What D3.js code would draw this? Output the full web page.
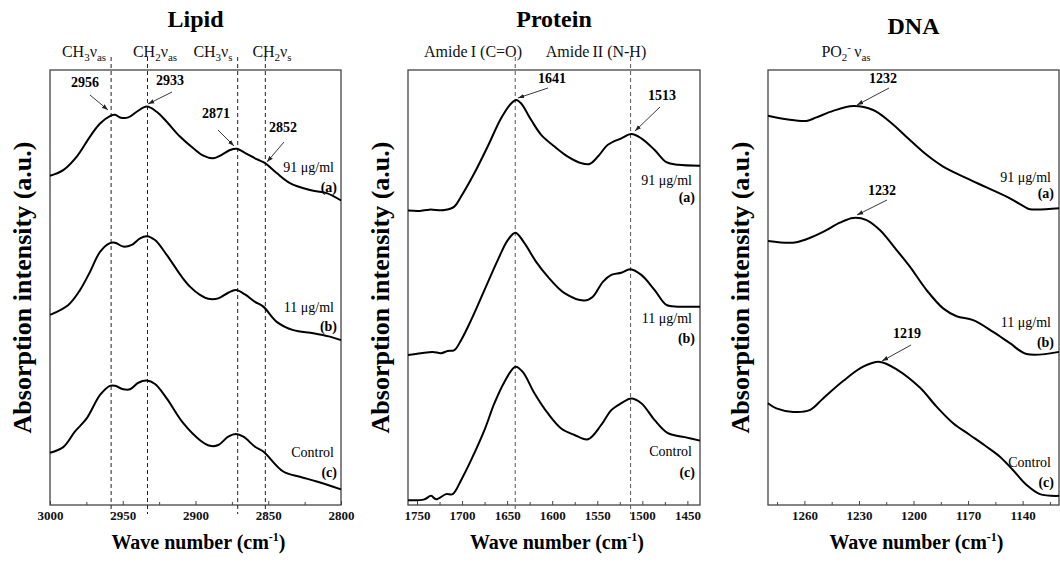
<!DOCTYPE html>
<html>
<head>
<meta charset="utf-8">
<script src="https://cdn.jsdelivr.net/npm/d3@7"></script>
<style>
  body { margin: 0; background: #fff; }
  svg text { font-family: "Liberation Serif", "Times New Roman", serif; }
</style>
</head>
<body>
<div id="container"></div>
<script>
// 枠の大きさ
let width = 1060;
let height = 563;

// Lipid  [wave number, intensity]
var lipidA = [[3000,7.57],[2990.9,7.70],[2981.6,8.01],[2972.5,8.47],[2965.6,8.77],[2958.8,8.94],[2955.3,8.97],[2951.9,8.91],[2946.2,8.91],[2940.4,9.04],[2933.5,9.16],[2926.7,9.04],[2919.8,8.81],[2910.7,8.47],[2901.5,8.20],[2894.6,8.03],[2887.8,7.97],[2882.0,8.05],[2876.3,8.16],[2871.7,8.19],[2864.8,8.07],[2857.9,7.95],[2852.2,7.86],[2844.2,7.63],[2835.1,7.40],[2821.3,7.24],[2809.8,7.17],[2800,7.00]];
var lipidB = [[3000,4.37],[2987.4,4.60],[2979.4,4.94],[2972.5,5.36],[2965.6,5.82],[2958.8,6.02],[2955.3,6.03],[2949.6,5.94],[2943.8,5.98],[2938.1,6.13],[2933.5,6.18],[2927.8,6.09],[2919.8,5.75],[2909.5,5.25],[2903.8,5.02],[2896.9,4.83],[2891.2,4.74],[2884.3,4.75],[2877.5,4.88],[2872.2,4.94],[2866.0,4.84],[2859.1,4.67],[2853.4,4.56],[2844.2,4.21],[2832.8,4.02],[2819.0,3.95],[2807.6,3.87],[2800,3.79]];
var lipidC = [[3000,1.20],[2990.9,1.33],[2982.8,1.69],[2974.8,1.99],[2965.6,2.53],[2958.8,2.74],[2955.3,2.74],[2949.6,2.66],[2945.0,2.66],[2939.3,2.81],[2933.5,2.86],[2927.8,2.78],[2919.8,2.45],[2908.4,1.88],[2896.9,1.49],[2890.0,1.36],[2884.3,1.38],[2877.5,1.57],[2872.2,1.63],[2867.1,1.57],[2859.1,1.34],[2853.4,1.23],[2839.7,0.77],[2828.2,0.65],[2816.7,0.54],[2800,0.36]];

// Protein
var proteinA = [[1760,6.77],[1747.4,6.76],[1736.3,6.79],[1719.7,6.78],[1708.6,6.86],[1701.1,7.09],[1686.3,7.63],[1671.6,8.24],[1656.7,8.89],[1645.6,9.23],[1640,9.31],[1634.4,9.23],[1623.3,8.85],[1612.2,8.51],[1597.4,8.24],[1582.7,8.01],[1567.8,7.86],[1558.6,7.84],[1549.3,8.01],[1538.2,8.28],[1523.3,8.43],[1512.2,8.53],[1501.1,8.43],[1486.3,8.16],[1473.3,7.88],[1460.4,7.82],[1436,7.80]];
var proteinB = [[1760,3.45],[1745.6,3.49],[1732.7,3.52],[1723.3,3.49],[1716.0,3.54],[1708.6,3.56],[1701.1,3.79],[1690.0,4.25],[1675.2,4.94],[1660.4,5.63],[1649.3,6.09],[1640.8,6.26],[1630.8,6.02],[1617.8,5.59],[1604.9,5.25],[1586.3,4.87],[1564.1,4.70],[1554.9,4.79],[1543.8,5.13],[1534.4,5.29],[1523.3,5.34],[1513.3,5.42],[1501.1,5.29],[1486.3,4.94],[1473.3,4.60],[1460.4,4.56],[1436,4.56]];
var proteinC = [[1760,0.11],[1741.9,0.13],[1734.4,0.21],[1728.9,0.13],[1717.8,0.25],[1710.4,0.25],[1701.1,0.57],[1690.0,1.03],[1675.2,1.72],[1664.1,2.34],[1653.0,2.83],[1640.8,3.18],[1632.7,3.06],[1619.7,2.57],[1604.9,2.11],[1590.0,1.76],[1575.2,1.61],[1560.4,1.51],[1545.6,1.84],[1534.4,2.18],[1523.3,2.34],[1512.2,2.45],[1501.1,2.34],[1486.3,1.95],[1471.6,1.65],[1453.0,1.56],[1436,1.48]];

// DNA
var dnaA = [[1280,8.95],[1269.9,8.87],[1258.9,8.83],[1253.4,8.91],[1244.2,9.06],[1233.2,9.17],[1222.2,9.08],[1213.0,8.81],[1202.0,8.39],[1192.8,8.05],[1183.7,7.78],[1172.7,7.55],[1159.8,7.30],[1147.0,7.05],[1138.7,6.85],[1136.0,6.80],[1120,6.82]];
var dnaB = [[1280,6.07],[1266.2,6.03],[1258.9,6.11],[1249.7,6.28],[1240.5,6.49],[1233.2,6.60],[1225.8,6.55],[1218.5,6.32],[1209.3,5.86],[1202.0,5.48],[1192.8,4.94],[1183.7,4.52],[1176.3,4.34],[1167.2,4.25],[1156.2,3.98],[1147.0,3.72],[1137.8,3.47],[1120,3.52]];
var dnaC = [[1280,2.34],[1275.4,2.22],[1266.2,2.14],[1257.1,2.18],[1249.7,2.45],[1238.7,2.85],[1227.7,3.18],[1218.5,3.29],[1209.3,3.12],[1196.5,2.70],[1187.3,2.26],[1178.2,1.88],[1169.0,1.61],[1159.8,1.34],[1152.5,1.11],[1145.2,0.80],[1137.8,0.46],[1130.5,0.25],[1120,0.21]];

var sampleLabels = ["91 \u03bcg/ml", "11 \u03bcg/ml", "Control"];
var letters = ["(a)", "(b)", "(c)"];

var svg = d3.select("#container").append("svg")
  .attr("width", width)
  .attr("height", height);

svg.append("defs").append("marker")
  .attr("id", "arrow")
  .attr("viewBox", "0 0 10 10")
  .attr("refX", 10).attr("refY", 5)
  .attr("markerWidth", 7).attr("markerHeight", 7)
  .attr("orient", "auto")
  .append("path").attr("d", "M0,1.5L10,5L0,8.5").attr("fill", "#222");

// window.top とぶつかるので別名
var plotTop = 70, plotBottom = 505;

var panels = [
  {
    title: "Lipid", titleY: 27, left: 50, right: 341, domain: [3000, 2800],
    ticks: [3000, 2950, 2900, 2850, 2800], minorStep: 25,
    series: [lipidA, lipidB, lipidC],
    dash: [2958, 2933, 2871, 2852], dashColor: "#222",
    heads: [
      { x: 84, parts: [["CH"], ["3", "sub"], ["\u03bd"], ["as", "sub"]] },
      { x: 155, parts: [["CH"], ["2", "sub"], ["\u03bd"], ["as", "sub"]] },
      { x: 213, parts: [["CH"], ["3", "sub"], ["\u03bd"], ["s", "sub"]] },
      { x: 272, parts: [["CH"], ["2", "sub"], ["\u03bd"], ["s", "sub"]] }
    ],
    peaks: [
      { t: "2956", lx: 85, ly: 87, a: [90, 95, 108, 110] },
      { t: "2933", lx: 170, ly: 85, a: [172, 92, 148, 104] },
      { t: "2871", lx: 216, ly: 118, a: [218, 130, 234, 146] },
      { t: "2852", lx: 283, ly: 132, a: [284, 142, 267, 162] }
    ],
    labY: [[172, 192], [312, 331], [457, 477]], labX: 334
  },
  {
    title: "Protein", titleY: 27, left: 408, right: 700, domain: [1760, 1436],
    ticks: [1750, 1700, 1650, 1600, 1550, 1500, 1450], minorStep: 25,
    series: [proteinA, proteinB, proteinC],
    dash: [1641, 1513], dashColor: "#555",
    heads: [
      { x: 473, parts: [["Amide\u2009I (C=O)"]] },
      { x: 596, parts: [["Amide\u2009II (N-H)"]] }
    ],
    peaks: [
      { t: "1641", lx: 552, ly: 83, a: [548, 88, 518, 98] },
      { t: "1513", lx: 662, ly: 100, a: [660, 107, 635, 131] }
    ],
    labY: [[185, 202], [323, 343], [456, 477]], labX: 692
  },
  {
    title: "DNA", titleY: 34, left: 768, right: 1059, domain: [1280, 1120],
    ticks: [1260, 1230, 1200, 1170, 1140], minorStep: 15,
    series: [dnaA, dnaB, dnaC],
    dash: [], dashColor: "#555",
    heads: [
      { x: 846, parts: [["PO"], ["2", "sub"], ["-", "sup"], ["\u2009\u03bd"], ["as", "sub"]] }
    ],
    peaks: [
      { t: "1232", lx: 883, ly: 83, a: [889, 88, 857, 105] },
      { t: "1232", lx: 882, ly: 195, a: [887, 200, 857, 215] },
      { t: "1219", lx: 907, ly: 338, a: [911, 345, 882, 361] }
    ],
    labY: [[182, 198], [327, 347], [467, 487]], labX: 1051
  }
];

var y = d3.scaleLinear().domain([0, 10]).range([plotBottom, plotTop]);

panels.forEach(function(p) {
  var x = d3.scaleLinear().domain(p.domain).range([p.left, p.right]);
  var g = svg.append("g");

  // 枠
  g.append("rect")
    .attr("x", p.left).attr("y", plotTop)
    .attr("width", p.right - p.left).attr("height", plotBottom - plotTop)
    .attr("fill", "none").attr("stroke", "#444").attr("stroke-width", 1.3);

  // minor ticks
  var minor = d3.range(p.domain[1], p.domain[0], p.minorStep)
    .map(function(v) { return Math.ceil(v / p.minorStep) * p.minorStep; })
    .filter(function(v) { return p.ticks.indexOf(v) < 0; });
  g.append("g").attr("transform", "translate(0," + plotBottom + ")")
    .call(d3.axisBottom(x).tickValues(minor).tickSize(-3).tickFormat(""))
    .call(function(a) { a.select(".domain").remove(); a.selectAll("line").attr("stroke", "#444"); });

  var ax = g.append("g").attr("transform", "translate(0," + plotBottom + ")")
    .call(d3.axisBottom(x).tickValues(p.ticks).tickSize(-4).tickPadding(6).tickFormat(d3.format("d")));
  ax.select(".domain").remove();
  ax.selectAll("line").attr("stroke", "#444");
  ax.selectAll("text")
    .attr("font-family", "Liberation Serif, Times New Roman, serif")
    .attr("font-size", 13).attr("font-weight", "bold").attr("fill", "#111");

  // dashed guide lines
  g.selectAll(".dash").data(p.dash).enter().append("line")
    .attr("x1", function(d) { return x(d); }).attr("x2", function(d) { return x(d); })
    .attr("y1", 57).attr("y2", 514)
    .attr("stroke", p.dashColor).attr("stroke-width", 1)
    .attr("stroke-dasharray", "4,3");

  // spectra
  var line = d3.line()
    .x(function(d) { return x(d[0]); })
    .y(function(d) { return y(d[1]); })
    .curve(d3.curveCatmullRom.alpha(0.5));
  g.selectAll(".spec").data(p.series).enter().append("path")
    .attr("d", line)
    .attr("fill", "none").attr("stroke", "#000").attr("stroke-width", 2)
    .attr("stroke-linejoin", "round");

  // title
  g.append("text").attr("x", (p.left + p.right) / 2).attr("y", p.titleY)
    .attr("text-anchor", "middle").attr("font-size", 24).attr("font-weight", "bold")
    .text(p.title);

  // band labels
  p.heads.forEach(function(h) {
    var t = g.append("text").attr("x", h.x).attr("y", 57)
      .attr("text-anchor", "middle").attr("font-size", 16).attr("fill", "#111");
    var shift = 0;
    h.parts.forEach(function(part) {
      var want = part[1] === "sub" ? 4 : part[1] === "sup" ? -6 : 0;
      t.append("tspan")
        .attr("dy", want - shift)
        .attr("font-size", part[1] ? 11 : 16)
        .text(part[0]);
      shift = want;
    });
  });

  // peak numbers and arrows
  p.peaks.forEach(function(k) {
    g.append("text").attr("x", k.lx).attr("y", k.ly)
      .attr("text-anchor", "middle").attr("font-size", 14).attr("font-weight", "bold")
      .text(k.t);
    g.append("line")
      .attr("x1", k.a[0]).attr("y1", k.a[1]).attr("x2", k.a[2]).attr("y2", k.a[3])
      .attr("stroke", "#222").attr("stroke-width", 0.9)
      .attr("marker-end", "url(#arrow)");
  });

  // sample labels
  p.labY.forEach(function(ly, i) {
    g.append("text").attr("x", p.labX).attr("y", ly[0])
      .attr("text-anchor", "end").attr("font-size", 14).text(sampleLabels[i]);
    g.append("text").attr("x", p.labX + 3).attr("y", ly[1])
      .attr("text-anchor", "end").attr("font-size", 14).attr("font-weight", "bold").text(letters[i]);
  });

  // axis titles
  var xt = g.append("text").attr("x", (p.left + p.right) / 2 + 3).attr("y", 549)
    .attr("text-anchor", "middle").attr("font-size", 20).attr("font-weight", "bold");
  xt.append("tspan").text("Wave number (cm");
  xt.append("tspan").attr("dy", -8).attr("font-size", 12).text("-1");
  xt.append("tspan").attr("dy", 8).text(")");

  g.append("text")
    .attr("transform", "translate(" + (p.left - 19) + "," + ((plotTop + plotBottom) / 2) + ") rotate(-90)")
    .attr("text-anchor", "middle").attr("font-size", 26).attr("font-weight", "bold")
    .text("Absorption intensity (a.u.)");
});
</script>
</body>
</html>
